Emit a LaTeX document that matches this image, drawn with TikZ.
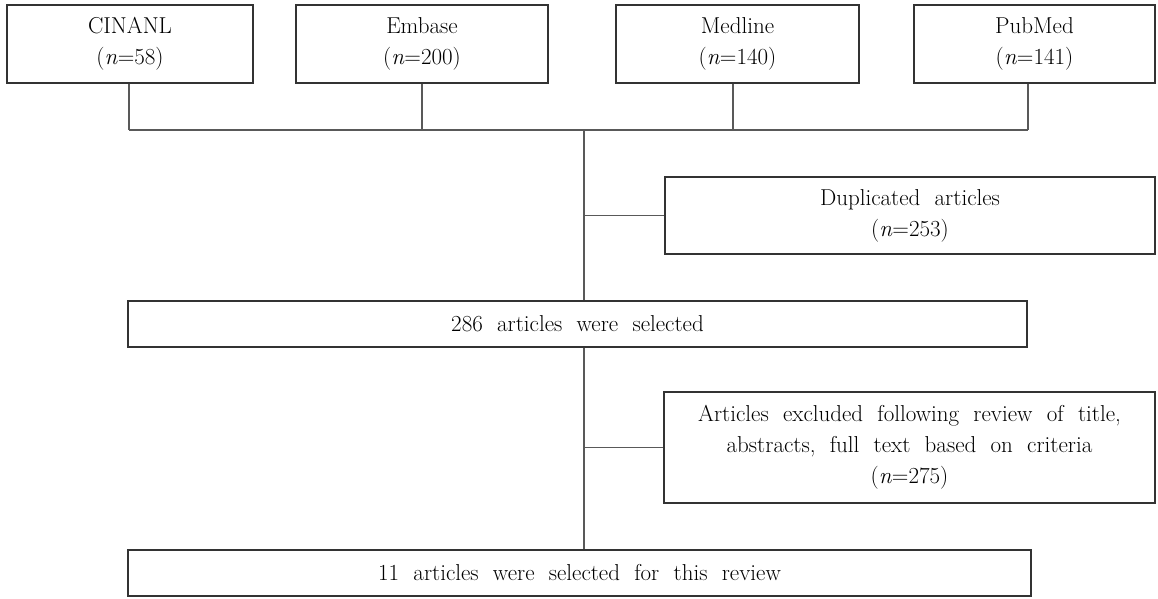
\documentclass[tikz,border=0pt]{standalone}
\newcommand\boxfont{\fontsize{23}{31}\selectfont\spaceskip=0.62em plus 0.1em minus 0.1em\relax}
\begin{document}
\begin{tikzpicture}[x=1pt,y=-1pt,
  box/.style={draw=black!80, line width=1.1pt, inner sep=0pt, align=center,
    font=\boxfont},
  conn/.style={draw=black!65, line width=1.1pt}]
\useasboundingbox (0,0) rectangle (1158,599);
% top boxes
\node[box, minimum width=246, minimum height=78] (cin) at (130,44) {CINANL\\(\textit{n}=58)};
\node[box, minimum width=252, minimum height=78] (emb) at (422,44) {Embase\\(\textit{n}=200)};
\node[box, minimum width=243, minimum height=78] (med) at (737.5,44) {Medline\\(\textit{n}=140)};
\node[box, minimum width=241, minimum height=78] (pub) at (1034.5,44) {PubMed\\(\textit{n}=141)};
% helper coordinates
\coordinate (hc) at (129,130);
\coordinate (he) at (422,130);
\coordinate (hm) at (733,130);
\coordinate (hp) at (1028,130);
\coordinate (hv) at (584,130);
% middle boxes
\node[box, minimum width=490, minimum height=77] (dup) at (910,215.5) {Duplicated articles\\(\textit{n}=253)};
\node[box, minimum width=899, minimum height=46] (sel) at (577.5,324) {286 articles were selected};
\node[box, minimum width=491, minimum height=111] (exc) at (909.5,447.5) {Articles excluded following review of title,\\abstracts, full text based on criteria\\(\textit{n}=275)};
\node[box, minimum width=903, minimum height=46] (fin) at (579.5,573) {11 articles were selected for this review};
\coordinate (bd) at (584,215.5);
\coordinate (be) at (584,447.5);
% connectors
\draw[conn] (hc) -- (hp);
\draw[conn] (cin.south -| hc) -- (hc);
\draw[conn] (emb.south -| he) -- (he);
\draw[conn] (med.south -| hm) -- (hm);
\draw[conn] (pub.south -| hp) -- (hp);
\draw[conn] (hv) -- (sel.north -| hv);
\draw[conn] (sel.south -| hv) -- (fin.north -| hv);
\draw[conn] (bd) -- (dup.west);
\draw[conn] (be) -- (exc.west);
\end{tikzpicture}
\end{document}
